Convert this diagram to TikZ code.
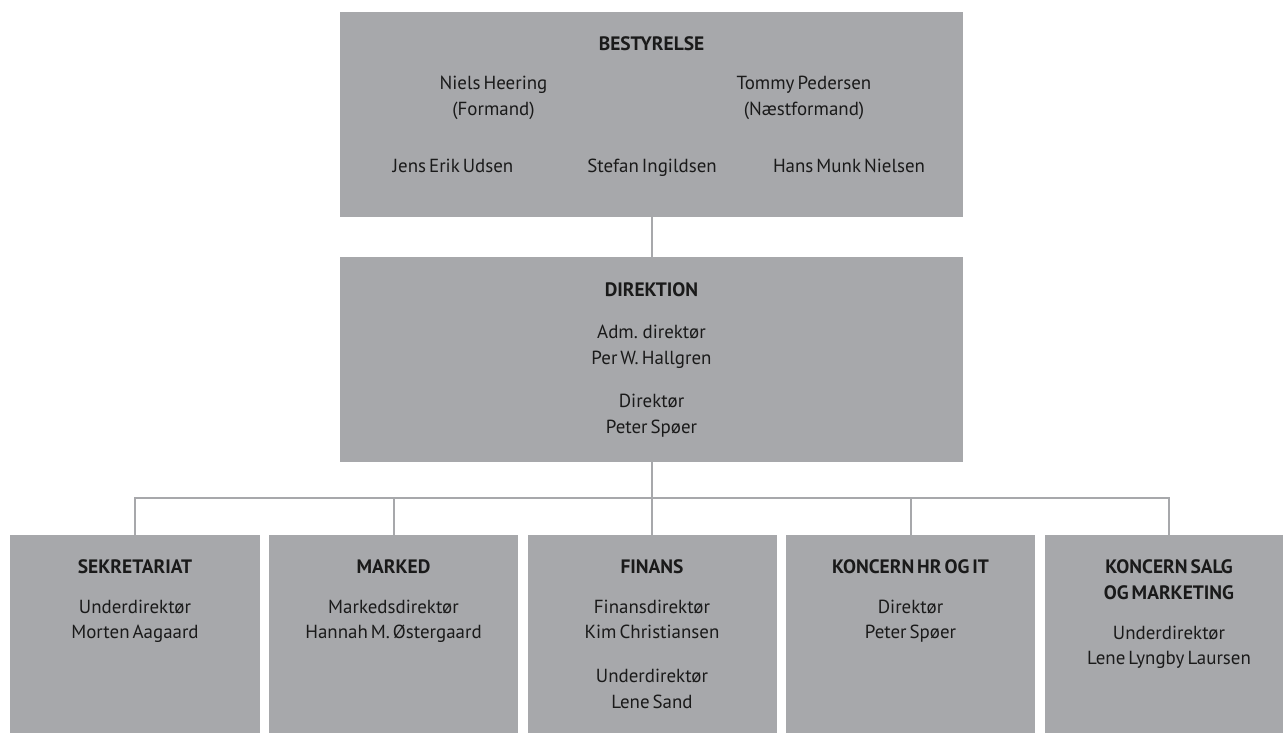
\documentclass[tikz,border=0pt]{standalone}
\usepackage{fontspec}
\setmainfont[WordSpace=0.6]{PT Sans}
\definecolor{boxgray}{HTML}{A7A8AB}
\definecolor{linegray}{HTML}{A7A8AB}
\definecolor{txt}{HTML}{1A1A1A}
\begin{document}
\begin{tikzpicture}[x=1bp,y=-1bp,
  box/.style={fill=boxgray, draw=none, inner sep=0pt, outer sep=0pt, anchor=north},
  bigbox/.style={box, minimum width=623bp, minimum height=205bp},
  smallbox/.style={box, minimum width=249bp, minimum height=202bp},
  tl/.style={anchor=base, inner sep=0pt, text=txt, font=\fontsize{19}{22}\selectfont},
  hl/.style={tl, font=\bfseries\fontsize{19.5}{22}\selectfont},
  conn/.style={draw=linegray, line width=2bp}]
\useasboundingbox (0,0) rectangle (1283,733);
\fill[white] (0,0) rectangle (1283,733);
\clip (0,0) rectangle (1283,733);

% boxes
\node[bigbox] (best) at (651.5,12) {};
\node[bigbox] (dir) at (651.5,257) {};
\node[smallbox] (b1) at (135,535) {};
\node[smallbox] (b2) at (393.5,535) {};
\node[smallbox] (b3) at (652,535) {};
\node[smallbox] (b4) at (910.5,535) {};
\node[smallbox] (b5) at (1169,535) {};

% connectors
\coordinate (bar) at (651.5,498);
\draw[conn] (best.south) -- (dir.north);
\draw[conn] (dir.south) -- (bar);
\draw[conn] (b1.north) -- (b1.north |- bar) -- (b5.north |- bar) -- (b5.north);
\draw[conn] (b2.north) -- (b2.north |- bar);
\draw[conn] (b3.north) -- (b3.north |- bar);
\draw[conn] (b4.north) -- (b4.north |- bar);

% BESTYRELSE
\node[hl] (bestT) at (651.5,51) {BESTYRELSE};
\node[tl] (bestA1) at (493.5,90) {Niels Heering};
\node[tl] (bestA2) at (493.5,116) {(Formand)};
\node[tl] (bestB1) at (804,90) {Tommy Pedersen};
\node[tl] (bestB2) at (804,116) {(Næstformand)};
\node[tl] (bestC) at (453,173) {Jens Erik Udsen};
\node[tl] (bestD) at (652,173) {Stefan Ingildsen};
\node[tl] (bestE) at (849,173) {Hans Munk Nielsen};

% DIREKTION
\node[hl] (dirT) at (651.5,296) {DIREKTION};
\node[tl] (dirA1) at (651.5,338) {Adm. direktør};
\node[tl] (dirA2) at (651.5,364) {Per W. Hallgren};
\node[tl] (dirB1) at (651.5,407) {Direktør};
\node[tl] (dirB2) at (651.5,433) {Peter Spøer};

% bottom row
\node[hl] (b1T) at (135,573) {SEKRETARIAT};
\node[tl] (b1A) at (135,613) {Underdirektør};
\node[tl] (b1B) at (135,638) {Morten Aagaard};

\node[hl] (b2T) at (393.5,573) {MARKED};
\node[tl] (b2A) at (393.5,613) {Markedsdirektør};
\node[tl] (b2B) at (393.5,638) {Hannah M. Østergaard};

\node[hl] (b3T) at (652,573) {FINANS};
\node[tl] (b3A) at (652,613) {Finansdirektør};
\node[tl] (b3B) at (652,638) {Kim Christiansen};
\node[tl] (b3C) at (652,682) {Underdirektør};
\node[tl] (b3D) at (652,708) {Lene Sand};

\node[hl] (b4T) at (910.5,573) {KONCERN HR OG IT};
\node[tl] (b4A) at (910.5,613) {Direktør};
\node[tl] (b4B) at (910.5,638) {Peter Spøer};

\node[hl] (b5T) at (1169,573) {KONCERN SALG};
\node[hl] (b5T2) at (1169,599) {OG MARKETING};
\node[tl] (b5A) at (1169,639) {Underdirektør};
\node[tl] (b5B) at (1169,664) {Lene Lyngby Laursen};
\end{tikzpicture}
\end{document}
